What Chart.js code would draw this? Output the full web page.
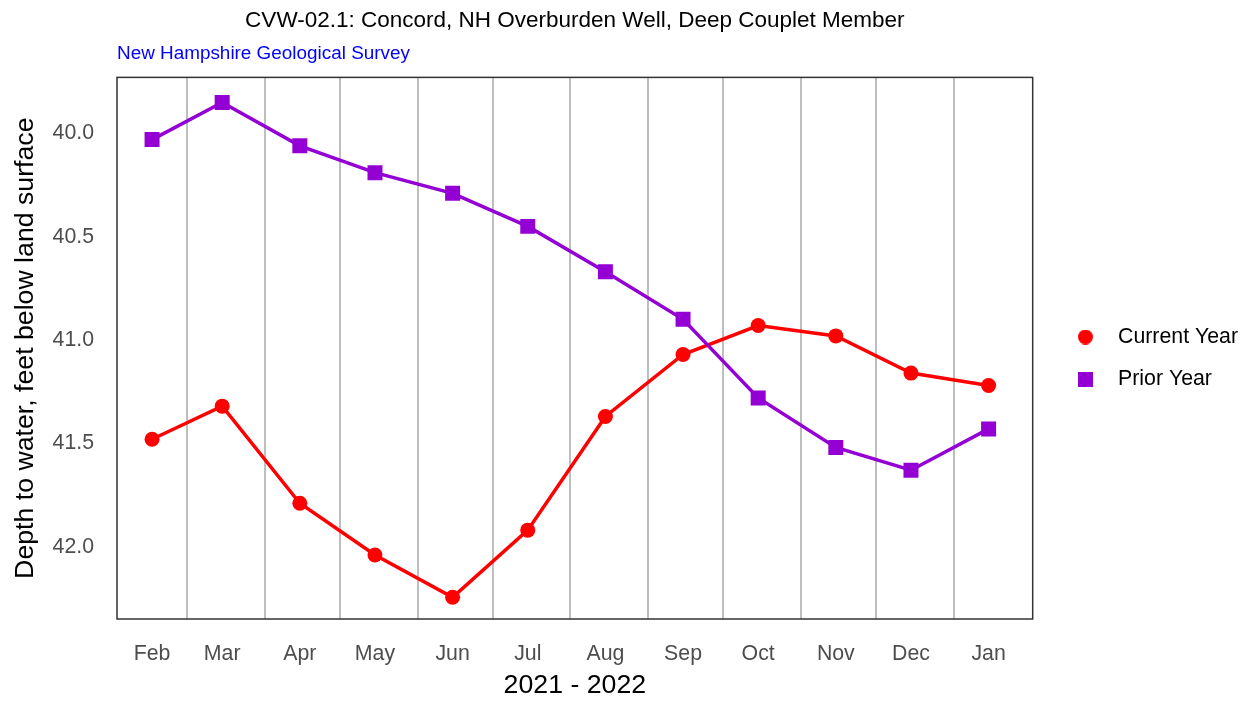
<!DOCTYPE html>
<html>
<head>
<meta charset="utf-8">
<style>
  html, body { margin: 0; padding: 0; background: #ffffff; }
  #wrap { width: 1252px; height: 705px; }
</style>
<script src="https://cdn.jsdelivr.net/npm/chart.js@4.4.1/dist/chart.umd.min.js"></script>
</head>
<body>
<div id="wrap"><canvas id="c" width="1252" height="705"></canvas></div>
<script>
// ---- data ----
const months = ['Feb','Mar','Apr','May','Jun','Jul','Aug','Sep','Oct','Nov','Dec','Jan'];
const sampleDates = ['2021-02-15','2021-03-15','2021-04-15','2021-05-15','2021-06-15','2021-07-15',
                     '2021-08-15','2021-09-15','2021-10-15','2021-11-15','2021-12-15','2022-01-15'];
const currentYear = [41.48, 41.32, 41.79, 42.04, 42.245, 41.92, 41.37, 41.07, 40.93, 40.98, 41.16, 41.22];
const priorYear   = [40.03, 39.85, 40.06, 40.19, 40.29, 40.45, 40.67, 40.90, 41.28, 41.52, 41.63, 41.43];
const monthStarts = ['2021-03-01','2021-04-01','2021-05-01','2021-06-01','2021-07-01','2021-08-01',
                     '2021-09-01','2021-10-01','2021-11-01','2021-12-01','2022-01-01'];
const yTicks = [40.0, 40.5, 41.0, 41.5, 42.0];
const axisStart = '2021-02-01';
const axisEnd = '2022-02-01';
const axisEndExtraDays = 0.6;
const yMin = 39.729, yMax = 42.35;

// ---- helpers ----
const DAY = 86400000;
const toDay = s => Math.round((Date.parse(s + 'T00:00:00Z') - Date.parse(axisStart + 'T00:00:00Z')) / DAY);
const labelDays = sampleDates.map(toDay);
const gridDays = monthStarts.map(toDay);
const allTickDays = [...new Set([...gridDays, ...labelDays])].sort((a, b) => a - b);

Chart.defaults.font.family = "'Liberation Sans', Arial, sans-serif";

const RED = '#FF0000';
const PURPLE = '#9400D3';

function markerCanvas(kind, color, size) {
  const cv = document.createElement('canvas');
  cv.width = size; cv.height = size;
  const g = cv.getContext('2d');
  g.fillStyle = color;
  if (kind === 'circle') { g.beginPath(); g.arc(size / 2, size / 2, size / 2, 0, Math.PI * 2); g.fill(); }
  else { g.fillRect(0, 0, size, size); }
  return cv;
}
const legendMarkers = [markerCanvas('circle', RED, 15), markerCanvas('rect', PURPLE, 15)];

const LEGEND_DX = 10, LEGEND_DY = 7;

const framePlugin = {
  id: 'frame',
  beforeDraw(chart) {
    if (chart.legend && !chart.legend._shifted) {
      chart.legend.left += LEGEND_DX; chart.legend.right += LEGEND_DX;
      chart.legend.top += LEGEND_DY; chart.legend.bottom += LEGEND_DY;
      chart.legend._shifted = true;
    }
  },
  afterDatasetsDraw(chart) {
    const a = chart.chartArea, ctx = chart.ctx;
    ctx.save();
    ctx.strokeStyle = '#333333';
    ctx.lineWidth = 1.5;
    ctx.strokeRect(a.left, a.top, a.right - a.left, a.bottom - a.top);
    ctx.restore();
  }
};

new Chart(document.getElementById('c'), {
  type: 'line',
  data: {
    datasets: [
      {
        label: 'Current Year',
        data: labelDays.map((d, i) => ({ x: d, y: currentYear[i] })),
        borderColor: RED, backgroundColor: RED,
        pointBackgroundColor: RED, pointBorderWidth: 0,
        pointRadius: 7.5, pointHoverRadius: 7.5,
        pointStyle: 'circle', borderWidth: 3.5, tension: 0, order: 1
      },
      {
        label: 'Prior Year',
        data: labelDays.map((d, i) => ({ x: d, y: priorYear[i] })),
        borderColor: PURPLE, backgroundColor: PURPLE,
        pointBackgroundColor: PURPLE, pointBorderWidth: 0,
        pointRadius: 10.6, pointHoverRadius: 10.6,
        pointStyle: 'rect', borderWidth: 3.5, tension: 0, order: 0
      }
    ]
  },
  options: {
    responsive: false,
    animation: false,
    layout: { padding: { left: 0, right: 14, top: 0, bottom: 3 } },
    plugins: {
      title: {
        display: true, fullSize: false, align: 'center',
        text: 'CVW-02.1: Concord, NH Overburden Well, Deep Couplet Member',
        color: '#000000',
        font: { size: 22.5, weight: 'normal' },
        padding: { top: 7.6, bottom: 0 }
      },
      subtitle: {
        display: true, fullSize: false, align: 'start',
        text: 'New Hampshire Geological Survey',
        color: '#0000FF',
        font: { size: 18.9, weight: 'normal' },
        padding: { top: 8.0, bottom: 12.1 }
      },
      legend: {
        display: true, position: 'right', align: 'center',
        labels: {
          usePointStyle: true,
          pointStyleWidth: 44,
          boxHeight: 15,
          padding: 20.7,
          color: '#000000',
          font: { size: 21.3 },
          generateLabels(chart) {
            const items = Chart.defaults.plugins.legend.labels.generateLabels(chart);
            items.sort((a, b) => a.datasetIndex - b.datasetIndex);
            items.forEach(it => { it.pointStyle = legendMarkers[it.datasetIndex]; });
            return items;
          }
        }
      },
      tooltip: { enabled: false }
    },
    scales: {
      x: {
        type: 'linear',
        min: toDay(axisStart), max: toDay(axisEnd) + axisEndExtraDays,
        afterBuildTicks(axis) { axis.ticks = allTickDays.map(v => ({ value: v })); },
        afterFit(axis) { axis.height = 83; },
        ticks: {
          autoSkip: false, maxRotation: 0, minRotation: 0,
          padding: 22,
          color: '#4D4D4D',
          font: { size: 21.3 },
          callback(v) { const i = labelDays.indexOf(v); return i >= 0 ? months[i] : ''; }
        },
        grid: {
          drawTicks: false,
          lineWidth: 2,
          color(ctx) { return (ctx.tick && gridDays.includes(ctx.tick.value)) ? '#BEBEBE' : 'rgba(0,0,0,0)'; }
        },
        border: { display: false },
        title: {
          display: true, text: '2021 - 2022', color: '#000000',
          font: { size: 26.7 }, padding: { top: 13, bottom: 0 }
        }
      },
      y: {
        type: 'linear', reverse: true,
        min: yMin, max: yMax,
        afterBuildTicks(axis) { axis.ticks = yTicks.map(v => ({ value: v })); },
        afterFit(axis) { axis.width = 117; },
        ticks: {
          padding: 23, color: '#4D4D4D', font: { size: 21.3 },
          callback(v) { return Number(v).toFixed(1); }
        },
        grid: { display: false, drawTicks: false },
        border: { display: false },
        title: {
          display: true, text: 'Depth to water, feet below land surface', color: '#000000',
          font: { size: 26.7 }, padding: { top: 10, bottom: 0 }
        }
      }
    }
  },
  plugins: [framePlugin]
});
</script>
</body>
</html>
